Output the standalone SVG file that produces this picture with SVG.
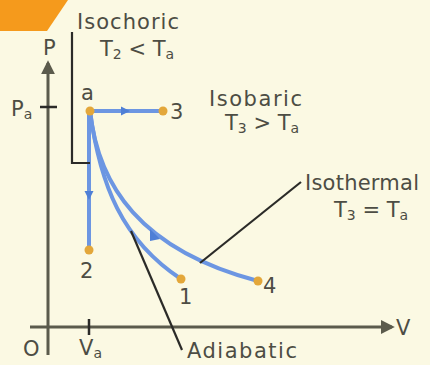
<svg xmlns="http://www.w3.org/2000/svg" width="430" height="365" viewBox="0 0 430 365">
<defs>
<style>
.t{font-family:"DejaVu Sans","Liberation Sans",sans-serif;fill:#4d4d44;font-size:21px}
.s{font-size:14px}
.axis{stroke:#5b5b4c;stroke-width:3;fill:none}
.lead{stroke:#2b2b28;stroke-width:2.2;fill:none}
.curve{stroke:#6c96e2;stroke-width:4;fill:none;stroke-linecap:round}
.pt{fill:#e3a73a}
.arr{fill:#4f7fd6}
</style>
<marker id="axh" viewBox="0 0 10 10" refX="8" refY="5" markerWidth="14" markerHeight="14" orient="auto" markerUnits="userSpaceOnUse">
<path d="M0,0 L10,5 L0,10 z" fill="#5b5b4c"/>
</marker>
</defs>
<rect width="430" height="365" fill="#fbf9e3"/>
<polygon points="0,0 68,0 47,31 0,31" fill="#f59a1c"/>

<g id="axes">
<line class="axis" x1="48" y1="355" x2="48" y2="63" marker-end="url(#axh)"/>
<line class="axis" x1="30" y1="327" x2="392" y2="327" marker-end="url(#axh)"/>
<line x1="40" y1="107" x2="57" y2="107" stroke="#2b2b28" stroke-width="2.5"/>
<line x1="89" y1="319" x2="89" y2="335" stroke="#2b2b28" stroke-width="2.5"/>
<text class="t" x="43" y="55">P</text>
<text class="t" x="396" y="335">V</text>
<text class="t" x="23" y="356">O</text>
<text class="t" x="11" y="116">P<tspan class="s" dy="3">a</tspan></text>
<text class="t" x="79" y="355">V<tspan class="s" dy="3">a</tspan></text>
</g>

<g id="connectors">
<path class="curve" d="M90,111 L163,111"/>
<path class="curve" d="M89,111 L89,250"/>
<path class="curve" d="M90,111 C98,185 140,250 258,281"/>
<path class="curve" d="M90,111 C100,185 122,240 181,279"/>
<polygon class="arr" points="121,106.5 130,111 121,115.5"/>
<polygon class="arr" points="84.5,191 93.5,191 89,200"/>
<polygon class="arr" points="150,229 160,239 150,241"/>
<line class="lead" x1="131" y1="231" x2="182" y2="350"/>
<line class="lead" x1="200" y1="263" x2="301" y2="182"/>
<polyline class="lead" points="72,32 72,163 90,163"/>
</g>

<g id="point-a"><circle class="pt" cx="90" cy="111" r="4.5"/><text class="t" x="81" y="100">a</text></g>
<g id="point-3"><circle class="pt" cx="163" cy="111" r="4.5"/><text class="t" x="170" y="119">3</text></g>
<g id="point-2"><circle class="pt" cx="89" cy="250" r="4.5"/><text class="t" x="80" y="278">2</text></g>
<g id="point-1"><circle class="pt" cx="181" cy="279" r="4.5"/><text class="t" x="179" y="304">1</text></g>
<g id="point-4"><circle class="pt" cx="258" cy="281" r="4.5"/><text class="t" x="263" y="293">4</text></g>

<g id="label-isochoric">
<text class="t" x="77" y="29" textLength="102">Isochoric</text>
<text class="t" x="100" y="56">T<tspan class="s" dy="3">2</tspan><tspan dy="-3"> &lt; T</tspan><tspan class="s" dy="3">a</tspan></text>
</g>
<g id="label-isobaric">
<text class="t" x="209" y="106" textLength="93">Isobaric</text>
<text class="t" x="225" y="130">T<tspan class="s" dy="3">3</tspan><tspan dy="-3"> &gt; T</tspan><tspan class="s" dy="3">a</tspan></text>
</g>
<g id="label-isothermal">
<text class="t" x="305" y="190" textLength="114">Isothermal</text>
<text class="t" x="334" y="217">T<tspan class="s" dy="3">3</tspan><tspan dy="-3"> = T</tspan><tspan class="s" dy="3">a</tspan></text>
</g>
<g id="label-adiabatic">
<text class="t" x="187" y="358" font-size="20" textLength="110">Adiabatic</text>
</g>
</svg>
